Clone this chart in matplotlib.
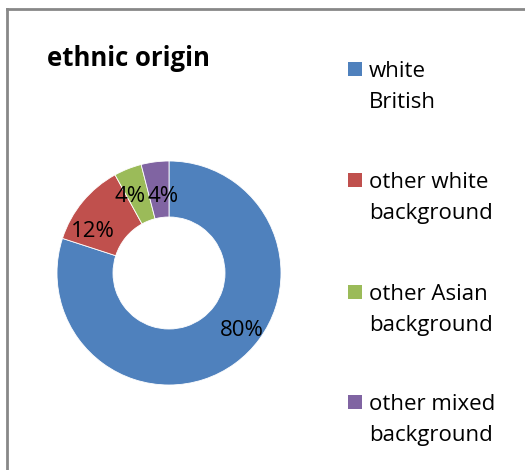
import matplotlib
matplotlib.use("Agg")
import matplotlib.pyplot as plt
from matplotlib.patches import Rectangle
from matplotlib.lines import Line2D

categories = ["white\nBritish", "other white\nbackground", "other Asian\nbackground", "other mixed\nbackground"]
values = [80, 12, 4, 4]
colors = ["#4F81BD", "#C0504D", "#9BBB59", "#8064A2"]
pct_labels = ["80%", "12%", "4%", "4%"]
title = "ethnic origin"

FONT = "Open Sans"
W, H = 525, 470
fig = plt.figure(figsize=(W / 100, H / 100), dpi=100)

# frame border (top and left visible)
fig.add_artist(Line2D([7 / W, 7 / W], [0, 1 - 9 / H], transform=fig.transFigure, color="#888888", lw=2))
fig.add_artist(Line2D([7 / W, 1], [1 - 9 / H, 1 - 9 / H], transform=fig.transFigure, color="#888888", lw=2))

cx, cy, r = 169, 273, 112
ax = fig.add_axes([(cx - r) / W, (H - cy - r) / H, 2 * r / W, 2 * r / H])
wedges, _ = ax.pie(values, colors=colors, startangle=90, counterclock=False,
                   radius=1.0, wedgeprops=dict(width=0.5, edgecolor="white", linewidth=0.6))
ax.set_xlim(-1, 1)
ax.set_ylim(-1, 1)
ax.set_aspect("equal")
ax.axis("off")

# data labels (positions in data coords, as placed by the original)
label_pos = [(0.65, -0.51), (-0.68, 0.37), (-0.35, 0.68), (-0.05, 0.68)]
for (x, y), t in zip(label_pos, pct_labels):
    ax.text(x, y, t, ha="center", va="center", fontsize=16, family=FONT, color="black")

fig.text(47 / W, 1 - 58 / H, title, ha="left", va="center", fontsize=18.5,
         fontweight="bold", family=FONT, color="black")

# legend
marker_y = [69, 180, 292, 402]
for yc, lab, w in zip(marker_y, categories, wedges):
    fig.add_artist(Rectangle((348 / W, 1 - (yc + 7) / H), 14 / W, 14 / H,
                             transform=fig.transFigure, facecolor=w.get_facecolor(), edgecolor="none"))
    fig.text(369 / W, 1 - (yc - 8) / H, lab, ha="left", va="top", fontsize=16,
             family=FONT, color="black", linespacing=1.6)

fig.savefig("out.png", dpi=100)
